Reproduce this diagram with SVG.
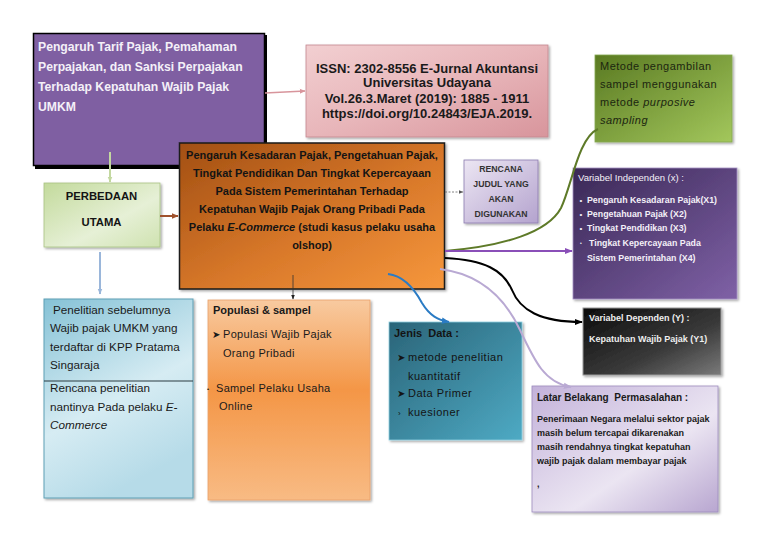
<svg xmlns="http://www.w3.org/2000/svg" width="768" height="543" viewBox="0 0 768 543">
<defs>
<style>
text{font-family:"Liberation Sans",Arial,sans-serif;}
.b{font-weight:bold;}
.it{font-style:italic;}
.sym{font-family:"DejaVu Sans",sans-serif;}
.c{text-anchor:middle;}
</style>
<filter id="sh" x="-10%" y="-10%" width="120%" height="120%">
<feDropShadow dx="1.5" dy="1.5" stdDeviation="1" flood-color="#000" flood-opacity="0.35"/>
</filter>
<linearGradient id="gIssn" x1="0" y1="0" x2="1" y2="1"><stop offset="0" stop-color="#f2cfd1"/><stop offset="0.5" stop-color="#e8b6ba"/><stop offset="1" stop-color="#d8959c"/></linearGradient>
<linearGradient id="gGreen" x1="0" y1="0" x2="1" y2="1"><stop offset="0" stop-color="#5a7a22"/><stop offset="1" stop-color="#a3c75c"/></linearGradient>
<linearGradient id="gCentral" x1="0" y1="0" x2="1" y2="1"><stop offset="0" stop-color="#a24f12"/><stop offset="0.55" stop-color="#d8782a"/><stop offset="1" stop-color="#f6973c"/></linearGradient>
<linearGradient id="gRencana" x1="0" y1="0" x2="1" y2="1"><stop offset="0" stop-color="#ece6f3"/><stop offset="1" stop-color="#b4a3ce"/></linearGradient>
<linearGradient id="gPerb" x1="0" y1="0" x2="1" y2="1"><stop offset="0" stop-color="#c3da9c"/><stop offset="0.6" stop-color="#e6f0d6"/><stop offset="1" stop-color="#cfe2b0"/></linearGradient>
<linearGradient id="gIndep" x1="0" y1="0" x2="1" y2="1"><stop offset="0" stop-color="#3a2856"/><stop offset="1" stop-color="#7f61a6"/></linearGradient>
<linearGradient id="gDep" x1="0" y1="0" x2="1" y2="1"><stop offset="0" stop-color="#0c0c0c"/><stop offset="0.6" stop-color="#3a3a3a"/><stop offset="1" stop-color="#7a7a7a"/></linearGradient>
<linearGradient id="gLatar" x1="0" y1="0" x2="1" y2="1"><stop offset="0" stop-color="#c3b2da"/><stop offset="0.6" stop-color="#ebe5f2"/><stop offset="1" stop-color="#b8a6d0"/></linearGradient>
<linearGradient id="gPenel" x1="0" y1="0" x2="0.4" y2="1"><stop offset="0" stop-color="#86c2d6"/><stop offset="0.6" stop-color="#d6ecf3"/><stop offset="1" stop-color="#b6dbe8"/></linearGradient>
<linearGradient id="gPop" x1="0" y1="0" x2="0" y2="1"><stop offset="0" stop-color="#f8caa0"/><stop offset="0.45" stop-color="#f49646"/><stop offset="1" stop-color="#f8bb84"/></linearGradient>
<linearGradient id="gJenis" x1="0" y1="0" x2="1" y2="1"><stop offset="0" stop-color="#2a6478"/><stop offset="1" stop-color="#4eaac4"/></linearGradient>
<marker id="mPink" viewBox="0 0 10 10" refX="9" refY="5" markerWidth="6" markerHeight="6" orient="auto" markerUnits="userSpaceOnUse"><path d="M0,1 L10,5 L0,9 z" fill="#d8959c"/></marker>
<marker id="mLgreen" viewBox="0 0 10 10" refX="9" refY="5" markerWidth="6" markerHeight="6" orient="auto" markerUnits="userSpaceOnUse"><path d="M0,1 L10,5 L0,9 z" fill="#c3d8a0"/></marker>
<marker id="mBrown" viewBox="0 0 10 10" refX="9" refY="5" markerWidth="7" markerHeight="7" orient="auto" markerUnits="userSpaceOnUse"><path d="M0,1 L10,5 L0,9 z" fill="#a0522d"/></marker>
<marker id="mLblue" viewBox="0 0 10 10" refX="9" refY="5" markerWidth="6" markerHeight="6" orient="auto" markerUnits="userSpaceOnUse"><path d="M0,1 L10,5 L0,9 z" fill="#9ab6da"/></marker>
<marker id="mDark" viewBox="0 0 10 10" refX="9" refY="5" markerWidth="5" markerHeight="5" orient="auto" markerUnits="userSpaceOnUse"><path d="M0,1 L10,5 L0,9 z" fill="#222"/></marker>
<marker id="mGray" viewBox="0 0 10 10" refX="9" refY="5" markerWidth="5" markerHeight="5" orient="auto" markerUnits="userSpaceOnUse"><path d="M0,1 L10,5 L0,9 z" fill="#555"/></marker>
<marker id="mPurple" viewBox="0 0 10 10" refX="9" refY="5" markerWidth="8" markerHeight="8" orient="auto" markerUnits="userSpaceOnUse"><path d="M0,1 L10,5 L0,9 z" fill="#8a4fb8"/></marker>
<marker id="mBlack" viewBox="0 0 10 10" refX="9" refY="5" markerWidth="8" markerHeight="8" orient="auto" markerUnits="userSpaceOnUse"><path d="M0,1 L10,5 L0,9 z" fill="#000"/></marker>
<marker id="mLav" viewBox="0 0 10 10" refX="9" refY="5" markerWidth="8" markerHeight="8" orient="auto" markerUnits="userSpaceOnUse"><path d="M0,1 L10,5 L0,9 z" fill="#b9a9d3"/></marker>
<marker id="mBlue" viewBox="0 0 10 10" refX="9" refY="5" markerWidth="8" markerHeight="8" orient="auto" markerUnits="userSpaceOnUse"><path d="M0,1 L10,5 L0,9 z" fill="#2a7bc4"/></marker>
</defs>
<rect width="768" height="543" fill="#ffffff"/>

<g id="n-umkm">
<rect x="35" y="35" width="232" height="134" fill="#000"/>
<rect x="33.5" y="33.5" width="231" height="132" fill="#7f5fa2" stroke="#000" stroke-width="1.5"/>
<g class="b" font-size="12.2" fill="#f4f0f8">
<text x="38" y="51">Pengaruh Tarif Pajak, Pemahaman</text>
<text x="38" y="71">Perpajakan, dan Sanksi Perpajakan</text>
<text x="38" y="91">Terhadap Kepatuhan Wajib Pajak</text>
<text x="38" y="111">UMKM</text>
</g>
</g>

<g id="n-issn">
<rect x="306" y="45" width="242" height="92" fill="url(#gIssn)" stroke="#c48890" stroke-width="0.8" filter="url(#sh)"/>
<g class="b c" font-size="13" fill="#1a1a1a">
<text x="427" y="72.5">ISSN: 2302-8556 E-Jurnal Akuntansi</text>
<text x="427" y="87">Universitas Udayana</text>
<text x="427" y="102.5">Vol.26.3.Maret (2019): 1885 - 1911</text>
<text x="427" y="117.5">https://doi.org/10.24843/EJA.2019.</text>
</g>
</g>

<g id="n-metode">
<rect x="595" y="55" width="137" height="87" fill="url(#gGreen)" stroke="#86a850" stroke-width="0.8" filter="url(#sh)"/>
<g font-size="11" letter-spacing="0.5" fill="#1c2610">
<text x="600" y="70">Metode pengambilan</text>
<text x="600" y="88">sampel menggunakan</text>
<text x="600" y="106">metode <tspan class="it">purposive</tspan></text>
<text x="600" y="124" class="it">sampling</text>
</g>
</g>

<g id="n-central">
<rect x="179.5" y="143" width="265" height="146" fill="url(#gCentral)" stroke="#1a1a1a" stroke-width="1.5" filter="url(#sh)"/>
<g class="b c" font-size="11" fill="#141414">
<text x="312" y="159">Pengaruh Kesadaran Pajak, Pengetahuan Pajak,</text>
<text x="312" y="177">Tingkat Pendidikan Dan Tingkat Kepercayaan</text>
<text x="312" y="195">Pada Sistem Pemerintahan Terhadap</text>
<text x="312" y="213">Kepatuhan Wajib Pajak Orang Pribadi Pada</text>
<text x="312" y="231">Pelaku <tspan class="it">E-Commerce</tspan> (studi kasus pelaku usaha</text>
<text x="312" y="249">olshop)</text>
</g>
</g>

<g id="n-rencana">
<rect x="464" y="160" width="74" height="63" fill="url(#gRencana)" stroke="#8c7cb0" stroke-width="0.8" filter="url(#sh)"/>
<g class="b c" font-size="8.7" fill="#333">
<text x="501" y="171.5">RENCANA</text>
<text x="501" y="186.5">JUDUL YANG</text>
<text x="501" y="201.5">AKAN</text>
<text x="501" y="216.5">DIGUNAKAN</text>
</g>
</g>

<g id="n-perbedaan">
<rect x="44" y="183" width="116" height="64" fill="url(#gPerb)" stroke="#a9c283" stroke-width="0.8" filter="url(#sh)"/>
<g class="b c" font-size="11.3" fill="#141414">
<text x="101.5" y="200">PERBEDAAN</text>
<text x="101.5" y="226">UTAMA</text>
</g>
</g>

<g id="n-independen">
<rect x="573" y="168" width="164" height="131" fill="url(#gIndep)" stroke="#a592c4" stroke-width="0.8" filter="url(#sh)"/>
<text x="578" y="180.5" font-size="9.5" fill="#f4f0f8">Variabel Independen (x) :</text>
<g font-size="8.8" fill="#f4f0f8">
<text x="579.5" y="202.5" font-size="8">•</text><text x="587" y="202.5" class="b">Pengaruh Kesadaran Pajak(X1)</text>
<text x="579.5" y="217" font-size="8">•</text><text x="587" y="217" class="b">Pengetahuan Pajak (X2)</text>
<text x="579.5" y="231" font-size="8">•</text><text x="587" y="231" class="b">Tingkat Pendidikan (X3)</text>
<text x="580" y="245" font-size="5">•</text><text x="589" y="246" class="b">Tingkat Kepercayaan Pada</text>
<text x="587" y="261" class="b">Sistem Pemerintahan (X4)</text>
</g>
</g>

<g id="n-dependen">
<rect x="583" y="308" width="138" height="67" fill="url(#gDep)" stroke="#9a9a9a" stroke-width="1" filter="url(#sh)"/>
<g class="b" font-size="9" fill="#eeeeee">
<text x="589" y="321">Variabel Dependen (Y) :</text>
<text x="589" y="342">Kepatuhan Wajib Pajak (Y1)</text>
</g>
</g>

<g id="n-latar">
<rect x="532" y="386" width="186" height="126" fill="url(#gLatar)" stroke="#9d8cbd" stroke-width="0.8" filter="url(#sh)"/>
<text x="537" y="401" class="b" font-size="10" fill="#1a1a1a" xml:space="preserve">Latar Belakang  Permasalahan :</text>
<g class="b" font-size="9" fill="#1a1a1a">
<text x="537" y="421.5">Penerimaan Negara melalui sektor pajak</text>
<text x="537" y="435.5">masih belum tercapai dikarenakan</text>
<text x="537" y="449.5">masih rendahnya tingkat kepatuhan</text>
<text x="537" y="464">wajib pajak dalam membayar pajak</text>
<text x="537" y="487">,</text>
</g>
</g>

<g id="n-penelitian">
<rect x="44" y="299" width="149" height="199" fill="url(#gPenel)" stroke="#5f9fb5" stroke-width="1" filter="url(#sh)"/>
<line x1="44" y1="381" x2="193" y2="381" stroke="#2a3a40" stroke-width="1.2"/>
<g font-size="11.7" fill="#1a1a1a">
<text x="53" y="313.5">Penelitian sebelumnya</text>
<text x="50" y="332">Wajib pajak UMKM yang</text>
<text x="50" y="350.5">terdaftar di KPP Pratama</text>
<text x="50" y="368.5">Singaraja</text>
<text x="50" y="392">Rencana penelitian</text>
<text x="50" y="410.5">nantinya Pada pelaku <tspan class="it">E-</tspan></text>
<text x="50" y="428.5" class="it">Commerce</text>
</g>
</g>

<g id="n-populasi">
<rect x="208" y="300" width="162" height="200" fill="url(#gPop)" stroke="#e9a06a" stroke-width="0.8" filter="url(#sh)"/>
<text x="213" y="314" class="b" font-size="11" fill="#1a1a1a">Populasi &amp; sampel</text>
<g font-size="11" fill="#1a1a1a" letter-spacing="0.3">
<text x="212" y="338" class="sym" font-size="10" letter-spacing="0">➤</text><text x="223" y="338">Populasi Wajib Pajak</text>
<text x="223" y="357">Orang Pribadi</text>
<text x="207" y="391" font-size="6" letter-spacing="0">•</text><text x="216" y="392">Sampel Pelaku Usaha</text>
<text x="219" y="410">Online</text>
</g>
</g>

<g id="n-jenis">
<rect x="389" y="322" width="133" height="118" fill="url(#gJenis)" stroke="#8fd0e0" stroke-width="0.8" filter="url(#sh)"/>
<text x="394" y="337" class="b" font-size="11" fill="#141414" xml:space="preserve">Jenis  Data :</text>
<g font-size="11" fill="#141414" letter-spacing="0.5">
<text x="397" y="361" class="sym" font-size="10" letter-spacing="0">➤</text><text x="408" y="361">metode penelitian</text>
<text x="408" y="380">kuantitatif</text>
<text x="397" y="397" class="sym" font-size="10" letter-spacing="0">➤</text><text x="408" y="397">Data Primer</text>
<text x="398" y="416" font-size="8" letter-spacing="0">›</text><text x="408" y="416">kuesioner</text>
</g>
</g>

<g id="connectors" fill="none">
<path d="M265,93 L305,91" stroke="#d8959c" stroke-width="1.5" marker-end="url(#mPink)"/>
<path d="M110,152 L110,182" stroke="#c3d8a0" stroke-width="2" marker-end="url(#mLgreen)"/>
<path d="M160,216 L178,216" stroke="#a0522d" stroke-width="2" marker-end="url(#mBrown)"/>
<path d="M100,252 L100,294" stroke="#9ab6da" stroke-width="2" marker-end="url(#mLblue)"/>
<path d="M293,275 L293,299" stroke="#333" stroke-width="0.8" marker-end="url(#mDark)"/>
<path d="M445,192 L463,192" stroke="#666" stroke-width="0.8" stroke-dasharray="2,1.5" marker-end="url(#mGray)"/>
<path d="M445,251 C505,246 548,232 561,208 C572,185 578,138 598,129" stroke="#5e7a28" stroke-width="2"/>
<path d="M445,251 L572,251" stroke="#8a4fb8" stroke-width="2" marker-end="url(#mPurple)"/>
<path d="M445,258 C485,260 503,270 512,290 C520,310 540,322 582,322" stroke="#000" stroke-width="2" marker-end="url(#mBlack)"/>
<path d="M440,269 C480,274 505,298 520,330 C535,362 545,383 571,387" stroke="#b9a9d3" stroke-width="2" marker-end="url(#mLav)"/>
<path d="M388,274 C405,276 415,290 422,303 C430,316 438,320 449,322" stroke="#2a7bc4" stroke-width="2" marker-end="url(#mBlue)"/>
</g>
</svg>
